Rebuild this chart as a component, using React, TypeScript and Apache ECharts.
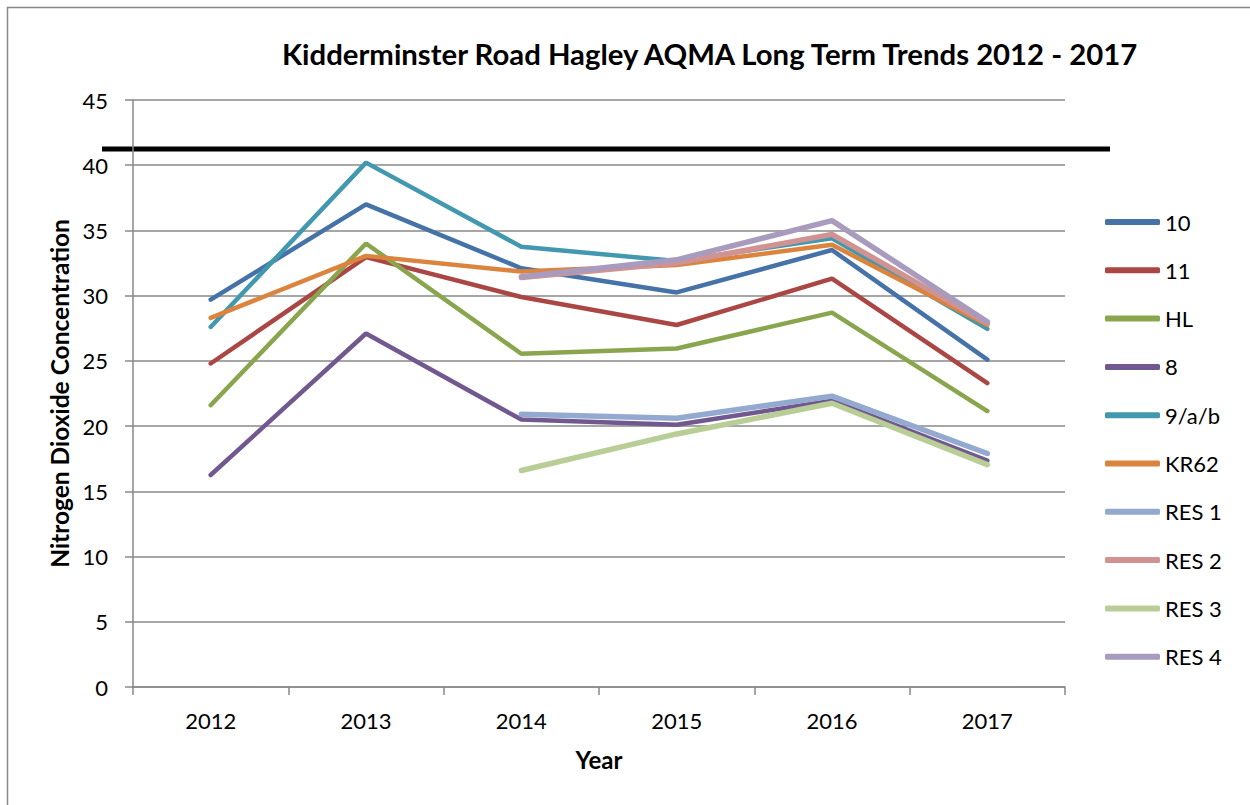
import React, { useEffect, useRef } from "react";
import * as echarts from "echarts";

const years = ["2012", "2013", "2014", "2015", "2016", "2017"];
const seriesNames = ["10", "11", "HL", "8", "9/a/b", "KR62", "RES 1", "RES 2", "RES 3", "RES 4"];
const s10 = [29.7, 37.0, 32.1, 30.25, 33.5, 25.1];
const s11 = [24.8, 32.95, 29.9, 27.75, 31.3, 23.3];
const sHL = [21.6, 34.0, 25.55, 25.95, 28.7, 21.15];
const s8 = [16.25, 27.1, 20.5, 20.1, 21.95, 17.35];
const s9ab = [27.6, 40.2, 33.75, 32.65, 34.4, 27.45];
const sKR62 = [28.3, 33.05, 31.85, 32.35, 33.9, 27.75];
const sRES1 = [null, null, 20.9, 20.6, 22.3, 17.9];
const sRES2 = [null, null, 31.4, 32.5, 34.7, 27.9];
const sRES3 = [null, null, 16.6, 19.4, 21.75, 17.05];
const sRES4 = [null, null, 31.45, 32.75, 35.75, 28.0];
const seriesData = [s10, s11, sHL, s8, s9ab, sKR62, sRES1, sRES2, sRES3, sRES4];
const colors = ["#4572A7", "#AA4643", "#89A54E", "#71588F", "#4198AF", "#DB843D", "#93A9CF", "#D19392", "#B9CD96", "#A99BBD"];
const limitValue = 41.25;

const FONT = "Lato, 'Open Sans', sans-serif";

export default function App() {
  const ref = useRef<HTMLDivElement>(null);
  useEffect(() => {
    if (!ref.current) return;
    const chart = echarts.init(ref.current, null, { renderer: "svg" });
    chart.setOption({
      animation: false,
      backgroundColor: "#fff",
      title: {
        text: "Kidderminster Road Hagley AQMA Long Term Trends 2012 - 2017",
        left: 277,
        top: 34,
        textStyle: { fontFamily: FONT, fontWeight: "bold", fontSize: 29.3, color: "#000" },
      },
      legend: {
        orient: "vertical",
        left: 1105,
        top: 210,
        padding: 0,
        itemWidth: 55,
        itemHeight: 6,
        itemGap: 24.3,
        icon: "roundRect",
        data: seriesNames,
        textStyle: { fontFamily: FONT, fontSize: 22, color: "#000", lineHeight: 24 },
      },
      grid: { left: 133, right: 185, top: 100, bottom: 118, containLabel: false },
      xAxis: {
        type: "category",
        data: years,
        boundaryGap: true,
        name: "Year",
        nameLocation: "middle",
        nameGap: 60,
        nameTextStyle: { fontFamily: FONT, fontWeight: "bold", fontSize: 24, color: "#000" },
        axisLine: { lineStyle: { color: "#888", width: 1.5 } },
        axisTick: { show: true, length: 8, lineStyle: { color: "#888", width: 1.5 } },
        axisLabel: { fontFamily: FONT, fontSize: 22, color: "#000", margin: 22 },
      },
      yAxis: {
        type: "value",
        min: 0,
        max: 45,
        interval: 5,
        name: "Nitrogen Dioxide Concentration",
        nameLocation: "middle",
        nameRotate: 90,
        nameGap: 61,
        nameTextStyle: { fontFamily: FONT, fontWeight: "bold", fontSize: 24.5, color: "#000" },
        axisLine: { show: true, lineStyle: { color: "#888", width: 1.5 } },
        axisTick: { show: true, length: 8, lineStyle: { color: "#888", width: 1.5 } },
        axisLabel: { fontFamily: FONT, fontSize: 22, color: "#000", margin: 25 },
        splitLine: { show: true, lineStyle: { color: "#888", width: 1.5 } },
      },
      series: seriesNames.map((name, i) => ({
        name,
        type: "line",
        data: seriesData[i],
        color: colors[i],
        showSymbol: false,
        symbol: "none",
        connectNulls: false,
        lineStyle: { width: i >= 6 ? 5.5 : 4.5, color: colors[i], cap: "round" },
      })),
    });
    const yLimit = chart.convertToPixel({ yAxisIndex: 0 }, limitValue) as number;
    chart.setOption({
      graphic: [
        {
          type: "rect",
          shape: { x: 7.5, y: 7.5, width: 1400, height: 1000 },
          style: { fill: "none", stroke: "#888", lineWidth: 1.5 },
          silent: true,
        },
        {
          type: "line",
          shape: { x1: 102, y1: yLimit, x2: 1110, y2: yLimit },
          style: { stroke: "#000", lineWidth: 5 },
          silent: true,
        },
      ],
    });
    return () => chart.dispose();
  }, []);
  return (
    <div
      ref={ref}
      style={{ position: "absolute", left: 0, top: 0, width: 1250, height: 805 }}
    />
  );
}
